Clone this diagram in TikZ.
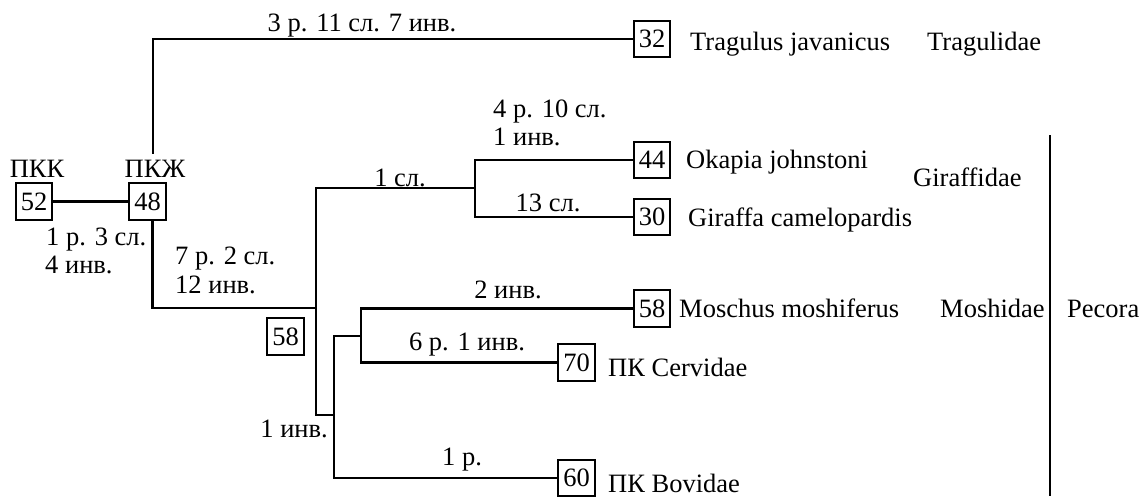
\documentclass[tikz,border=0pt]{standalone}
\usepackage{fontspec}
\setmainfont{Liberation Serif}
\begin{document}
\begin{tikzpicture}[x=1pt,y=-1pt,
  every node/.style={font=\fontsize{26.5}{29}\selectfont},
  box/.style={draw,line width=2.3pt,minimum width=36.5pt,minimum height=36.5pt,inner sep=0pt},
  lbl/.style={inner sep=0pt,anchor=base},
  lblw/.style={inner sep=0pt,anchor=base west},
  lble/.style={inner sep=0pt,anchor=base east},
  edge/.style={line width=2.5pt,line cap=rect}]
\useasboundingbox (0,0) rectangle (1142,496);
% boxes
\node[box] (b52) at (34,201.5) {52};
\node[box] (b48) at (147.5,201.5) {48};
\node[box] (b32) at (652,39) {32};
\node[box] (b44) at (652,160) {44};
\node[box] (b30) at (652,217) {30};
\node[box] (b58i) at (285.5,336.5) {58};
\node[box] (b58) at (652,308.5) {58};
\node[box] (b70) at (576.5,362.5) {70};
\node[box] (b60) at (576.5,478) {60};
% junctions
\coordinate (j0) at (153,153);
\coordinate (j1) at (316,308);
\coordinate (j1t) at (316,188);
\coordinate (j1b) at (316,415);
\coordinate (j2) at (475,188);
\coordinate (j3) at (334,415);
\coordinate (j4) at (361,336);
% connectors
\draw[edge] (b52.east) -- (b48.west);
\draw[edge] (j0) |- (b32.west);
\draw[edge] ([xshift=5pt]b48.south) |- (j1);
\draw[edge] (j1t) -- (j1b);
\draw[edge] (j1t) -- (j2);
\draw[edge] (b44.west) -| (j2) |- (b30.west);
\draw[edge] (j1b) -- (j3);
\draw[edge] (j4) -| (j3) |- (b60.west);
\draw[edge] (b58.west) -| (j4) |- (b70.west);
% branch labels
\node[lbl] (t1) at (362,31) {3 р. 11 сл. 7 инв.};
\node[lblw] (t2a) at (493,117) {4 р. 10 сл.};
\node[lblw] (t2b) at (493,145) {1 инв.};
\node[lbl] (t3) at (400,186) {1 сл.};
\node[lbl] (t4) at (548,211) {13 сл.};
\node[lblw] (t5a) at (46,245) {1 р. 3 сл.};
\node[lblw] (t5b) at (45,273) {4 инв.};
\node[lblw] (t6a) at (175,264) {7 р. 2 сл.};
\node[lblw] (t6b) at (175,293) {12 инв.};
\node[lbl] (t7) at (508,298) {2 инв.};
\node[lbl] (t8) at (467,350) {6 р. 1 инв.};
\node[lble] (t9) at (328,437) {1 инв.};
\node[lbl] (t10) at (462,465) {1 р.};
\node[lbl] (pkk) at (37,177) {ПКК};
\node[lbl] (pkzh) at (155,177) {ПКЖ};
% taxa
\node[lblw] (n1) at (690,50) {Tragulus javanicus};
\node[lblw] (f1) at (927,50) {Tragulidae};
\node[lblw] (n2) at (686,168) {Okapia johnstoni};
\node[lblw] (n3) at (688,226) {Giraffa camelopardis};
\node[lblw] (f2) at (913,186) {Giraffidae};
\node[lblw] (n4) at (679,317) {Moschus moshiferus};
\node[lblw] (f3) at (940,317) {Moshidae};
\node[lblw] (f4) at (1067,317) {Pecora};
\node[lblw] (n5) at (608,376) {ПК Cervidae};
\node[lblw] (n6) at (608,492) {ПК Bovidae};
% Pecora bar
\coordinate (p1) at (1050,135);
\coordinate (p2) at (1050,496);
\draw[line width=2.8pt] (p1) -- (p2);
\end{tikzpicture}
\end{document}
